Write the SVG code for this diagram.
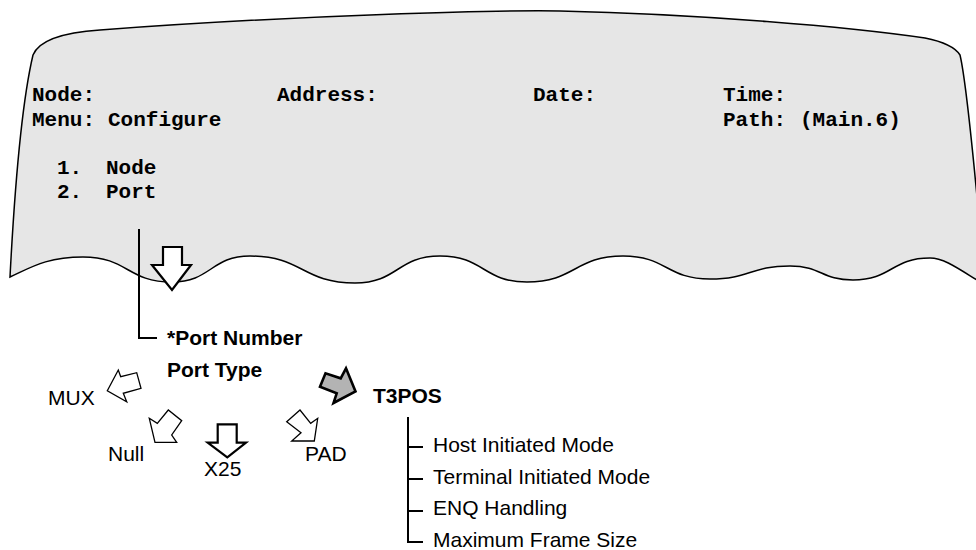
<svg xmlns="http://www.w3.org/2000/svg" width="976" height="550" viewBox="0 0 976 550">
<style>
.mono{font-family:"Liberation Mono","Courier New",monospace;font-weight:bold;font-size:21px;fill:#000}
.sb{font-family:"Liberation Sans",Arial,sans-serif;font-weight:bold;font-size:21px;fill:#000}
.sr{font-family:"Liberation Sans",Arial,sans-serif;font-size:21px;fill:#000}
.thin{fill:#fff;stroke:#000;stroke-width:1.3;stroke-linejoin:miter}
.thick{fill:#fff;stroke:#000;stroke-width:2.2;stroke-linejoin:miter}
.line{fill:none;stroke:#000;stroke-width:2}
</style>
<rect width="976" height="550" fill="#fff"/>
<g id="screen">
<path d="M 10,277 C 14,200 20,110 33,55 C 40,38 70,32 100,30 C 300,15 500,10 560,11 C 700,14 850,27 925,38 C 945,42 955,47 960,55 C 966,80 975,170 985,285 C 960,270 945,258 930,258 C 891,258 892,280 853,280 C 821,280 822,266 790,266 C 750,266 750,279 710,279 C 666,279 667,256 623,256 C 575,256 575,282 527,282 C 483,282 484,256 440,256 C 397,256 398,283 355,283 C 302,283 303,256 250,256 C 211,256 211,282 172,282 C 127,282 128,257 83,257 C 46,257 30,268 10,277 Z" fill="#e6e6e6" stroke="#000" stroke-width="1.5"/>
<text class="mono" x="32" y="101">Node:</text>
<text class="mono" x="277" y="101">Address:</text>
<text class="mono" x="533" y="101">Date:</text>
<text class="mono" x="723" y="101">Time:</text>
<text class="mono" x="32" y="126">Menu:</text>
<text class="mono" x="108" y="126">Configure</text>
<text class="mono" x="723" y="126">Path:</text>
<text class="mono" x="800" y="126">(Main.6)</text>
<text class="mono" x="57" y="174">1.</text>
<text class="mono" x="106" y="174">Node</text>
<text class="mono" x="57" y="198">2.</text>
<text class="mono" x="106" y="198">Port</text>
</g>
<g id="connectors">
<path class="line" d="M 139,229 L 139,338 L 157,338"/>
<path class="line" d="M 408,417 L 408,542 L 423,542 M 408,447 L 423,447 M 408,479 L 423,479 M 408,511 L 423,511"/>
<polygon id="arrow-down" class="thick" points="163,247 182,247 182,265 191,265 172,290 152,265 163,265"/>
<polygon id="arrow-mux" class="thin" points="107.3,390.7 118.3,370 120.7,376.7 136.7,372.7 141,388.3 123.3,393.3 126.7,401.7"/>
<polygon id="arrow-null" class="thin" points="149.3,418.3 157.3,423.3 168.3,410 181.7,420.7 171.7,435 176.7,442.3 155,442.3"/>
<polygon id="arrow-x25" class="thick" points="217.7,424.3 236.7,424.3 236.7,442.7 246,442.7 227.3,457.3 207.7,442.7 217.7,442.7"/>
<polygon id="arrow-pad" class="thin" points="286.7,421.7 300,410 310.7,423.3 317.7,418.3 314.3,441 291.7,441 301,432.7"/>
<polygon id="arrow-t3pos" points="320,386.7 325.5,373.3 340.7,378.3 346,368.3 355.5,391.5 333.5,403 336.7,393.3" fill="#b3b3b3" stroke="#000" stroke-width="2.6" stroke-linejoin="miter"/>
</g>
<g id="port-number"><text class="sb" x="167" y="345">*Port Number</text></g>
<g id="port-type"><text class="sb" x="167" y="377">Port Type</text></g>
<g id="mux"><text class="sr" x="48" y="405">MUX</text></g>
<g id="null"><text class="sr" x="108" y="461">Null</text></g>
<g id="x25"><text class="sr" x="204" y="476">X25</text></g>
<g id="pad"><text class="sr" x="305" y="461">PAD</text></g>
<g id="t3pos"><text class="sb" x="373" y="403">T3POS</text></g>
<g id="host"><text class="sr" x="433" y="452">Host Initiated Mode</text></g>
<g id="terminal"><text class="sr" x="433" y="484">Terminal Initiated Mode</text></g>
<g id="enq"><text class="sr" x="433" y="515">ENQ Handling</text></g>
<g id="maxframe"><text class="sr" x="433" y="547">Maximum Frame Size</text></g>
</svg>
